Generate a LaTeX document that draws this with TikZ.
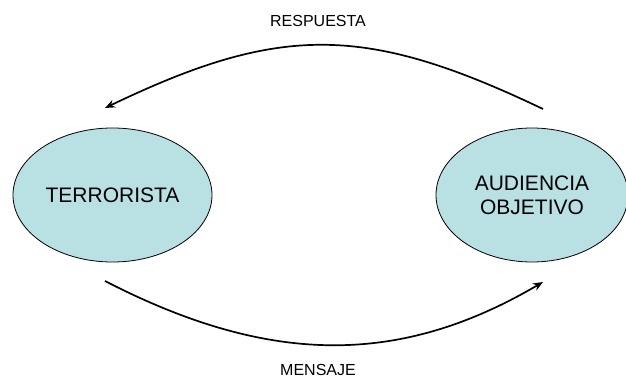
\documentclass[tikz,border=0pt]{standalone}
\usepackage{fontspec}
\setmainfont{Liberation Sans}
\usetikzlibrary{shapes.geometric,arrows.meta}
\definecolor{ellfill}{HTML}{B9E0E3}
\tikzset{
  party/.style={ellipse, draw=black, line width=0.8pt, fill=ellfill, minimum width=199pt, minimum height=134pt, inner sep=0pt, font=\fontsize{21}{24}\selectfont, align=center},
  flow/.style={line width=1.7pt, -{Stealth[length=10pt,width=8pt]}},
  lbl/.style={font=\fontsize{16}{19}\selectfont, anchor=base, inner sep=0pt}
}
\begin{document}
\begin{tikzpicture}[x=1pt,y=1pt]
\useasboundingbox (0,0) rectangle (626,378);
\node[party] (ter) at (112.5,183) {TERRORISTA};
\node[party, minimum width=192pt] (aud) at (532,183) {AUDIENCIA\\OBJETIVO};
\coordinate (t1) at (543,269);
\coordinate (t2) at (105,270);
\coordinate (b1) at (105,97);
\coordinate (b2) at (543,96);
\draw[flow] (t1) .. controls (365,354) and (280,354) .. (t2);
\draw[flow] (b1) .. controls (270,12) and (400,12) .. (b2);
\node[lbl] (resp) at (318,351) {RESPUESTA};
\node[lbl] (mens) at (318,3) {MENSAJE};
\end{tikzpicture}
\end{document}
